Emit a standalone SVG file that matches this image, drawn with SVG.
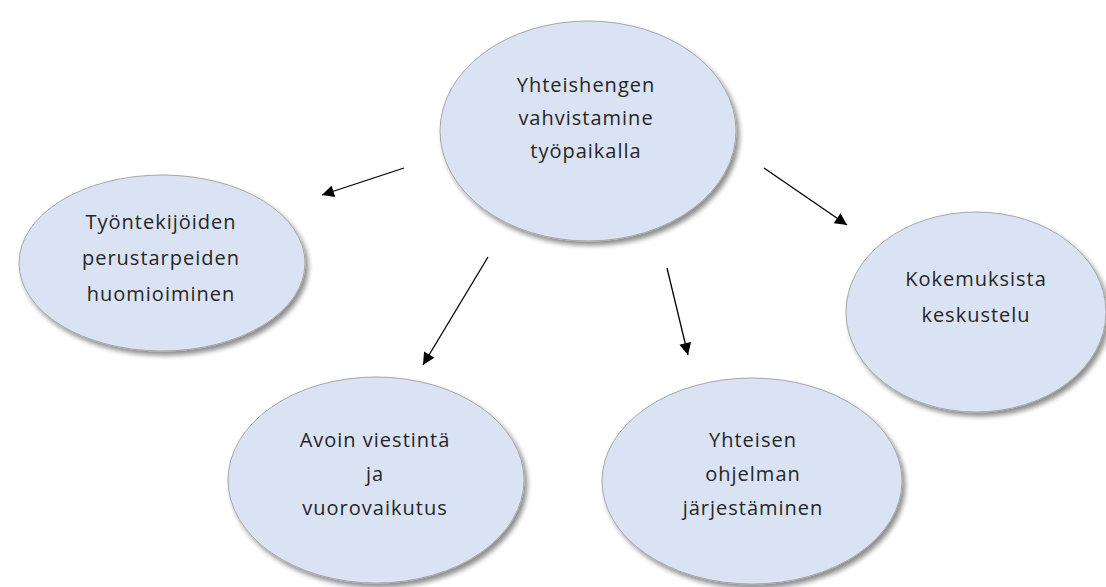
<svg xmlns="http://www.w3.org/2000/svg" width="1106" height="587" viewBox="0 0 1106 587">
<style>
.n{fill:#dae3f3;stroke:#a6a6a6;stroke-width:1;filter:url(#sh)}
.t{font-family:"Open Sans","DejaVu Sans",sans-serif;font-size:20px;fill:#262626;text-anchor:middle;letter-spacing:1px}
.c{stroke:#000;stroke-width:1.3;fill:none;marker-end:url(#ah)}
</style>
<defs>
<filter id="sh" x="-10%" y="-10%" width="125%" height="125%">
<feGaussianBlur in="SourceAlpha" stdDeviation="2.5"/>
<feOffset dx="3" dy="4" result="b"/>
<feComponentTransfer><feFuncA type="linear" slope="0.45"/></feComponentTransfer>
<feMerge><feMergeNode/><feMergeNode in="SourceGraphic"/></feMerge>
</filter>
<marker id="ah" viewBox="0 0 10 10" refX="10" refY="5" markerWidth="13" markerHeight="12" markerUnits="userSpaceOnUse" orient="auto">
<path d="M0,0 L10,5 L0,10 z" fill="#000"/>
</marker>
</defs>
<rect width="1106" height="587" fill="#fff"/>
<g id="connectors">
<line class="c" x1="404" y1="168" x2="322" y2="195"/>
<line class="c" x1="488" y1="257" x2="423" y2="365"/>
<line class="c" x1="667" y1="268" x2="688" y2="355"/>
<line class="c" x1="764" y1="168" x2="847" y2="225"/>
</g>
<g id="center">
<ellipse class="n" cx="588" cy="131" rx="148" ry="110"/>
<text class="t" x="586" y="92">Yhteishengen</text>
<text class="t" x="586" y="125">vahvistamine</text>
<text class="t" x="586" y="158">työpaikalla</text>
</g>
<g id="left">
<ellipse class="n" cx="162" cy="263" rx="143" ry="88"/>
<text class="t" x="161" y="229">Työntekijöiden</text>
<text class="t" x="161" y="265">perustarpeiden</text>
<text class="t" x="161" y="301">huomioiminen</text>
</g>
<g id="bottomleft">
<ellipse class="n" cx="376" cy="480" rx="148" ry="103"/>
<text class="t" x="375" y="447">Avoin viestintä</text>
<text class="t" x="375" y="481">ja</text>
<text class="t" x="375" y="515">vuorovaikutus</text>
</g>
<g id="bottomright">
<ellipse class="n" cx="752" cy="481" rx="150" ry="103"/>
<text class="t" x="753" y="447">Yhteisen</text>
<text class="t" x="753" y="481">ohjelman</text>
<text class="t" x="753" y="515">järjestäminen</text>
</g>
<g id="right">
<ellipse class="n" cx="976" cy="312" rx="130" ry="100"/>
<text class="t" x="976" y="286">Kokemuksista</text>
<text class="t" x="976" y="322">keskustelu</text>
</g>
</svg>
